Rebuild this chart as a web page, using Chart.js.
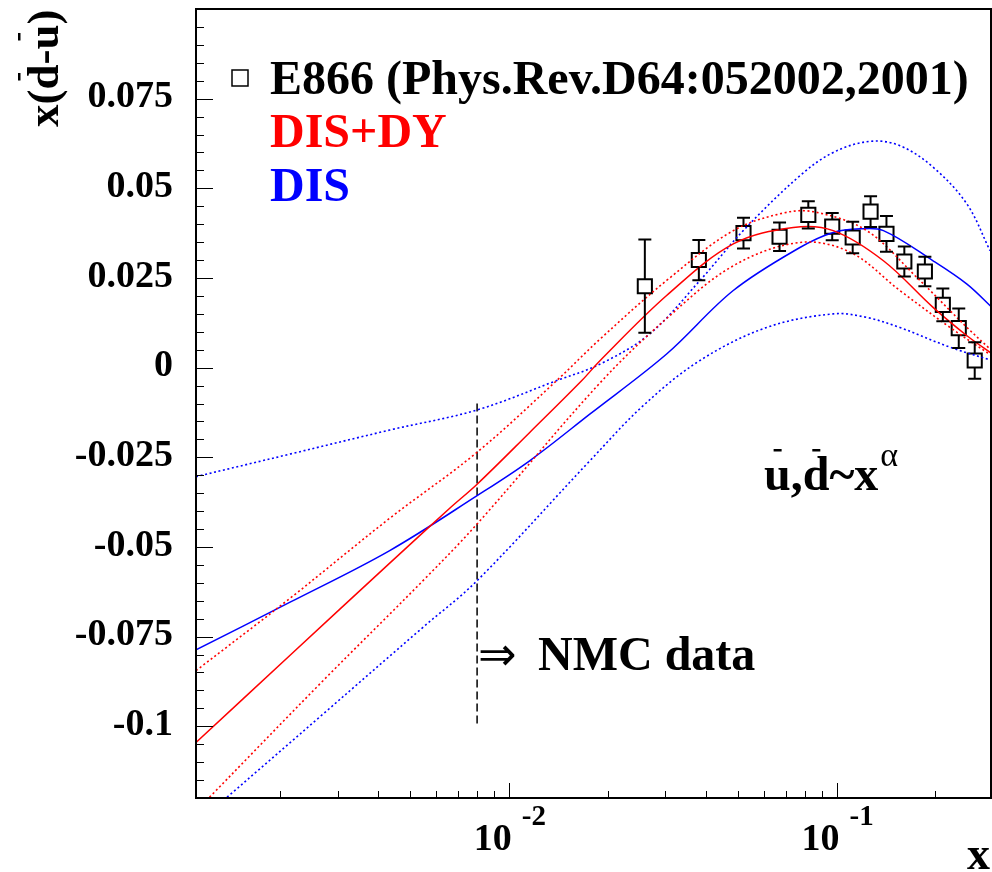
<!DOCTYPE html>
<html>
<head>
<meta charset="utf-8">
<script src="https://cdn.jsdelivr.net/npm/chart.js@4.4.0/dist/chart.umd.min.js"></script>
<style>
  html, body { margin: 0; padding: 0; background: #fff; overflow: hidden; }
  canvas { display: block; }
</style>
</head>
<body>
<canvas id="chart" width="992" height="872"></canvas>
<script>
// E866 points (x, value, error)
const e866X = [0.026, 0.038, 0.052, 0.067, 0.082, 0.097, 0.112, 0.127, 0.142, 0.161, 0.186, 0.211, 0.236, 0.264];
const e866Y = [0.0227, 0.0300, 0.0375, 0.0365, 0.0426, 0.0393, 0.0363, 0.0435, 0.0373, 0.0296, 0.0268, 0.0175, 0.0110, 0.0020];
const e866Err = [0.0130, 0.0056, 0.0043, 0.0040, 0.0038, 0.0038, 0.0044, 0.0043, 0.0050, 0.0042, 0.0041, 0.0046, 0.0055, 0.0051];

// DIS+DY fit: central and band
const redX = [0.00111, 0.00215, 0.00433, 0.0066, 0.008, 0.0116, 0.0167, 0.019, 0.0303, 0.0484, 0.0738, 0.0977, 0.139, 0.197, 0.25, 0.298];
const redY = [-0.1045, -0.0802, -0.0545, -0.0392, -0.0325, -0.0180, -0.0036, 0.0020, 0.0201, 0.0345, 0.0391, 0.0382, 0.0298, 0.0168, 0.0089, 0.0039];
const redUpX = [0.00111, 0.00215, 0.00433, 0.008, 0.014, 0.019, 0.0303, 0.0484, 0.0704, 0.087, 0.1236, 0.1756, 0.25, 0.298];
const redUpY = [-0.0845, -0.0643, -0.0420, -0.0236, -0.0036, 0.0080, 0.0243, 0.0382, 0.0433, 0.0433, 0.0382, 0.0252, 0.0112, 0.0047];
const redLoX = [0.00122, 0.00271, 0.00547, 0.008, 0.019, 0.0303, 0.0484, 0.0773, 0.11, 0.156, 0.222, 0.298];
const redLoY = [-0.1198, -0.0873, -0.0594, -0.0436, -0.0042, 0.0137, 0.0284, 0.0349, 0.0322, 0.0215, 0.0112, 0.0033];

// DIS fit: central and band
const blueX = [0.00111, 0.00215, 0.00433, 0.008, 0.0116, 0.0177, 0.0303, 0.0484, 0.0773, 0.0977, 0.118, 0.139, 0.197, 0.25, 0.298];
const blueY = [-0.0787, -0.0654, -0.0510, -0.0357, -0.0259, -0.0129, 0.0038, 0.0215, 0.0335, 0.0377, 0.0387, 0.0382, 0.0298, 0.0233, 0.0168];
const blueUpX = [0.00111, 0.00215, 0.00433, 0.008, 0.014, 0.019, 0.0269, 0.0383, 0.0519, 0.0773, 0.0977, 0.1265, 0.156, 0.197, 0.25, 0.294];
const blueUpY = [-0.0304, -0.0241, -0.0174, -0.0118, -0.0036, 0.0010, 0.0094, 0.0243, 0.0382, 0.0535, 0.0600, 0.0631, 0.0619, 0.0559, 0.0456, 0.0326];
const blueLoX = [0.00138, 0.00271, 0.00547, 0.008, 0.0177, 0.0257, 0.0383, 0.0612, 0.0977, 0.1236, 0.156, 0.222, 0.298];
const blueLoY = [-0.1198, -0.0966, -0.0724, -0.0594, -0.0259, -0.0106, 0.0020, 0.0112, 0.0150, 0.0140, 0.0112, 0.0057, 0.0020];

// NMC marker line
const nmcX = 0.008;
const nmcY = [-0.01, -0.1];

// axis labels
const yTickValues = [0.075, 0.05, 0.025, 0, -0.025, -0.05, -0.075, -0.1];
const yTickLabels = ['0.075', '0.05', '0.025', '0', '-0.025', '-0.05', '-0.075', '-0.1'];
const xTickValues = [0.01, 0.1];
const xTickExp = ['-2', '-1'];
const legendLabels = ['E866 (Phys.Rev.D64:052002,2001)', 'DIS+DY', 'DIS'];

const FONT = '"Liberation Serif", "Times New Roman", serif';
const RED = '#ff0000';
const BLUE = '#0000ff';

function pts(xs, ys) {
  return xs.map((x, i) => ({ x: x, y: ys[i] }));
}

function curve(xs, ys, color, dotted) {
  return {
    data: pts(xs, ys),
    showLine: true,
    pointRadius: 0,
    borderColor: color,
    borderWidth: dotted ? 1.6 : 1.5,
    borderDash: dotted ? [2, 2.6] : [],
    tension: 0.35,
    fill: false
  };
}

// text with short bars over some letters
function barredText(ctx, segs, x, y, barH) {
  let cx = x;
  segs.forEach(s => {
    const w = ctx.measureText(s.t).width;
    ctx.fillText(s.t, cx, y);
    if (s.bar) ctx.fillRect(cx + w * 0.36, y - barH, w * 0.3, 2.5);
    cx += w;
  });
  return cx;
}

const decorations = {
  id: 'decorations',
  afterDatasetsDraw(chart) {
    const { ctx, chartArea: a } = chart;
    const xs = chart.scales.x, ys = chart.scales.y;
    ctx.save();

    // error bars of E866
    ctx.strokeStyle = '#000';
    ctx.lineWidth = 2;
    ctx.beginPath();
    e866X.forEach((x, i) => {
      const px = xs.getPixelForValue(x);
      const py = ys.getPixelForValue(e866Y[i]);
      const top = ys.getPixelForValue(e866Y[i] + e866Err[i]);
      const bot = ys.getPixelForValue(e866Y[i] - e866Err[i]);
      if (top < py - 7) { ctx.moveTo(px, py - 7); ctx.lineTo(px, top); }
      if (bot > py + 7) { ctx.moveTo(px, py + 7); ctx.lineTo(px, bot); }
      ctx.moveTo(px - 6.5, top); ctx.lineTo(px + 6.5, top);
      ctx.moveTo(px - 6.5, bot); ctx.lineTo(px + 6.5, bot);
    });
    ctx.stroke();

    // frame
    ctx.lineWidth = 2;
    ctx.strokeRect(a.left, a.top, a.right - a.left, a.bottom - a.top);

    // ticks inside the frame
    ctx.lineWidth = 1;
    ctx.beginPath();
    for (let k = -24; k <= 20; k++) {
      const py = Math.round(ys.getPixelForValue(k * 0.005)) + 0.5;
      const len = k % 5 === 0 ? 17 : 8;
      ctx.moveTo(a.left, py); ctx.lineTo(a.left + len, py);
    }
    for (let e = -3; e <= -1; e++) {
      for (let m = 1; m <= 9; m++) {
        const v = m * Math.pow(10, e);
        if (v < xs.min || v > xs.max) continue;
        const px = Math.round(xs.getPixelForValue(v)) + 0.5;
        const len = m === 1 ? 15 : 7;
        ctx.moveTo(px, a.bottom); ctx.lineTo(px, a.bottom - len);
      }
    }
    ctx.stroke();

    // y tick labels
    ctx.fillStyle = '#000';
    ctx.font = 'bold 38px ' + FONT;
    ctx.textAlign = 'right';
    ctx.textBaseline = 'middle';
    yTickValues.forEach((v, i) => ctx.fillText(yTickLabels[i], a.left - 23, ys.getPixelForValue(v) - 1));

    // x tick labels 10^n
    ctx.textBaseline = 'alphabetic';
    xTickValues.forEach((v, i) => {
      const px = xs.getPixelForValue(v);
      ctx.font = 'bold 38px ' + FONT;
      ctx.textAlign = 'right';
      ctx.fillText('10', px + 3, a.bottom + 52);
      ctx.font = 'bold 29px ' + FONT;
      ctx.textAlign = 'left';
      ctx.fillText(xTickExp[i], px + 13, a.bottom + 27);
    });

    // axis titles
    ctx.font = 'bold 46px ' + FONT;
    ctx.textAlign = 'right';
    ctx.fillText('x', 990, 869);

    ctx.save();
    ctx.translate(58, 127);
    ctx.rotate(-Math.PI / 2);
    ctx.textAlign = 'left';
    ctx.font = 'bold 45px ' + FONT;
    barredText(ctx, [{ t: 'x(' }, { t: 'd', bar: true }, { t: '-' }, { t: 'u', bar: true }, { t: ')' }], 0, 0, 40);
    ctx.restore();

    // legend
    ctx.textAlign = 'left';
    ctx.font = 'bold 48px ' + FONT;
    ctx.fillStyle = '#000';
    ctx.fillText(legendLabels[0], 270, 94);
    ctx.fillStyle = RED;
    ctx.fillText(legendLabels[1], 270, 147);
    ctx.fillStyle = BLUE;
    ctx.fillText(legendLabels[2], 270, 201);
    ctx.strokeStyle = '#000';
    ctx.lineWidth = 1.5;
    ctx.strokeRect(232, 70, 16, 16);

    // annotations
    ctx.fillStyle = '#000';
    ctx.font = '46px "DejaVu Sans"';
    ctx.fillText('\u21D2', 478, 670);
    ctx.font = 'bold 48px ' + FONT;
    ctx.fillText('NMC data', 538, 670);

    ctx.font = 'bold 48px ' + FONT;
    const ex = barredText(ctx, [{ t: 'u', bar: true }, { t: ',' }, { t: 'd', bar: true }, { t: '~x' }], 764, 490, 41);
    ctx.font = '34px ' + FONT;
    ctx.fillText('\u03B1', ex + 2, 466);

    ctx.restore();
  }
};

new Chart(document.getElementById('chart'), {
  type: 'scatter',
  data: {
    datasets: [
      curve(redUpX, redUpY, RED, true),
      curve(redLoX, redLoY, RED, true),
      curve(redX, redY, RED, false),
      curve(blueUpX, blueUpY, BLUE, true),
      curve(blueLoX, blueLoY, BLUE, true),
      curve(blueX, blueY, BLUE, false),
      {
        data: [{ x: nmcX, y: nmcY[0] }, { x: nmcX, y: nmcY[1] }],
        showLine: true,
        pointRadius: 0,
        borderColor: '#000',
        borderWidth: 1.5,
        borderDash: [8, 4]
      },
      {
        data: pts(e866X, e866Y),
        showLine: false,
        pointStyle: 'rect',
        pointRadius: 10,
        borderColor: '#000',
        backgroundColor: 'rgba(0,0,0,0)',
        borderWidth: 2
      }
    ]
  },
  options: {
    responsive: false,
    animation: false,
    devicePixelRatio: 1,
    layout: { autoPadding: false, padding: { left: 196, top: 9, right: 1, bottom: 74 } },
    plugins: { legend: { display: false }, tooltip: { enabled: false } },
    scales: {
      x: { type: 'logarithmic', min: 0.00111, max: 0.296, display: false },
      y: { type: 'linear', min: -0.12, max: 0.1, display: false }
    }
  },
  plugins: [decorations]
});
</script>
</body>
</html>
